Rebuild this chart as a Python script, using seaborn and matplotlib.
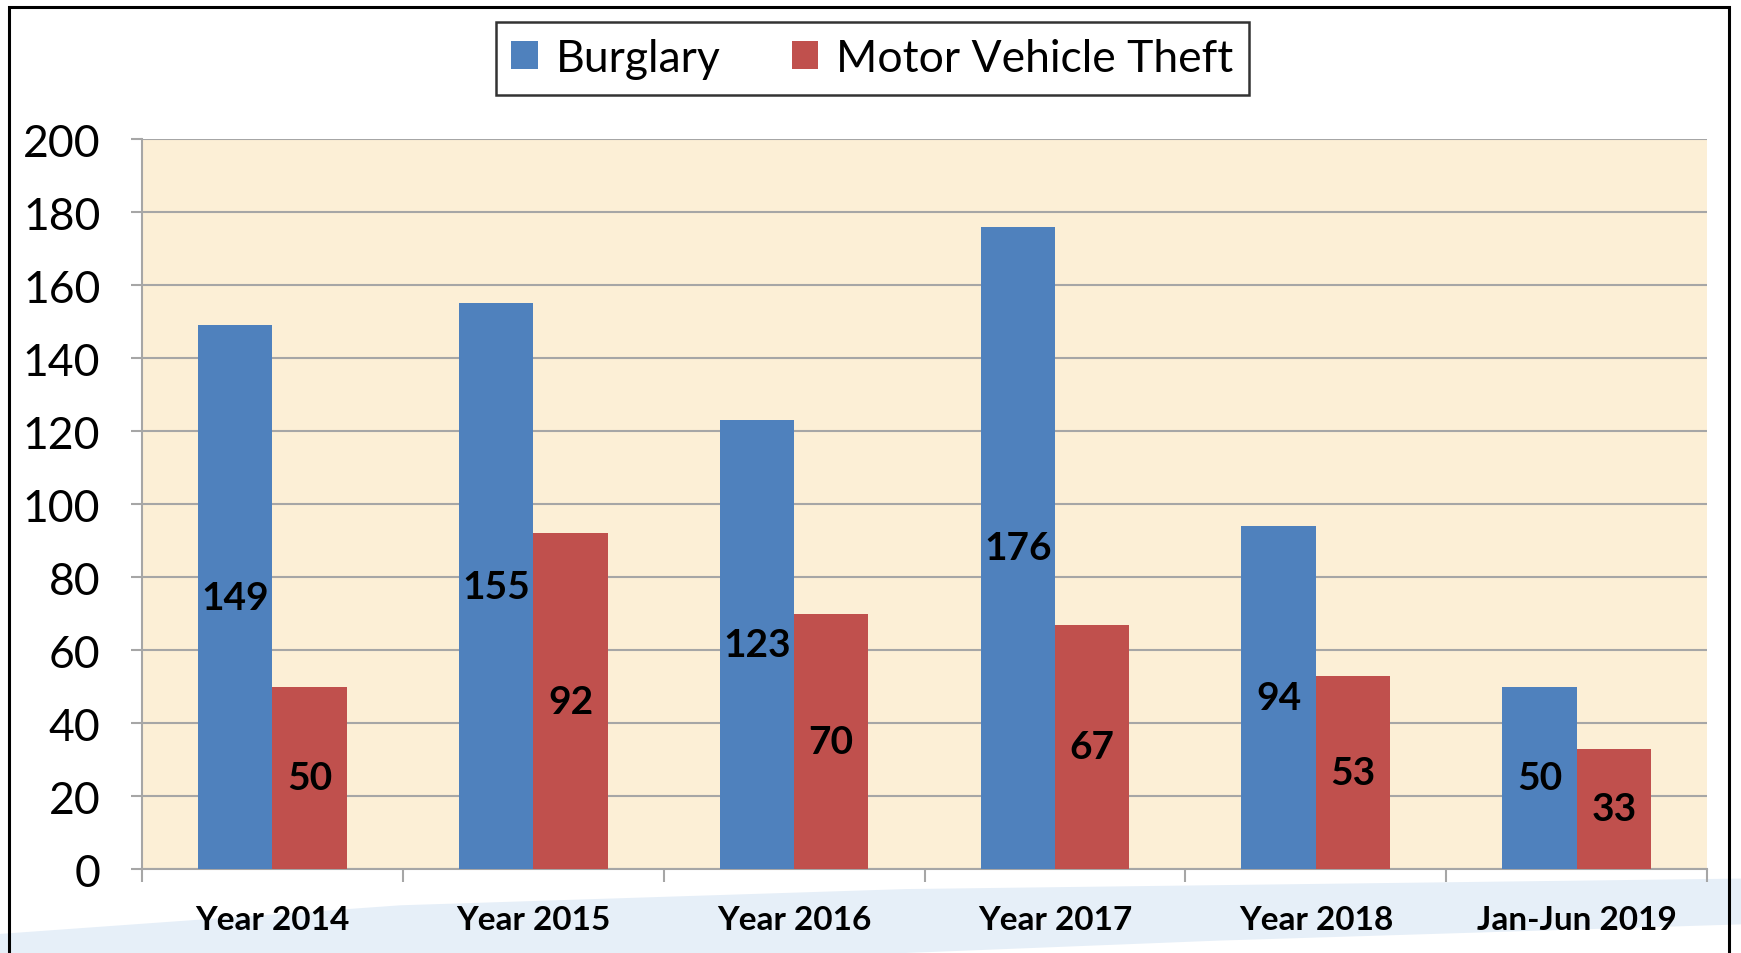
import matplotlib
matplotlib.use('Agg')
import matplotlib.pyplot as plt
import numpy as np
import pandas as pd
import seaborn as sns
from matplotlib.patches import Polygon, Rectangle
from matplotlib.ticker import MultipleLocator, FixedLocator

periods = ['Year 2014', 'Year 2015', 'Year 2016', 'Year 2017', 'Year 2018', 'Jan-Jun 2019']
burglary = [149, 155, 123, 176, 94, 50]
vehicle_theft = [50, 92, 70, 67, 53, 33]
series_names = ['Burglary', 'Motor Vehicle Theft']
colors = ['#4F81BD', '#C0504D']

df = pd.DataFrame({
    'period': periods * 2,
    'count': burglary + vehicle_theft,
    'crime': [series_names[0]] * len(periods) + [series_names[1]] * len(periods),
})

sns.set_style('white')
plt.rcParams['font.family'] = ['Lato', 'DejaVu Sans']
plt.rcParams['text.color'] = 'black'
plt.rcParams['xtick.labelcolor'] = 'black'
plt.rcParams['ytick.labelcolor'] = 'black'

fig = plt.figure(figsize=(17.41, 9.54), dpi=100)

# background layer: light blue swoosh and outer frame
bg = fig.add_axes([0, 0, 1, 1], zorder=-1)
bg.set_xlim(0, 1)
bg.set_ylim(0, 1)
bg.axis('off')
bg.add_patch(Polygon([(0, 0.02), (0.23, 0.05), (0.52, 0.067), (1.0, 0.078),
                      (1.0, 0.03), (0.7, 0.013), (0.52, 0.0), (0, 0.0)],
                     closed=True, facecolor='#E6EFF8', edgecolor='none'))
bg.add_patch(Rectangle((0.005, -0.05), 0.988, 1.042, fill=False,
                       edgecolor='black', linewidth=2.2, clip_on=False))

ax = fig.add_axes([0.0816, 0.088, 0.8989, 0.765])
ax.set_facecolor('#FCEFD6')

sns.barplot(data=df, x='period', y='count', hue='crime', palette=colors,
            width=0.57, saturation=1, linewidth=0, ax=ax, legend=False, zorder=3)

for cont in ax.containers:
    ax.bar_label(cont, label_type='center', fontsize=28, fontweight='bold', color='black')

ax.set_ylim(0, 200)
ax.set_xlim(-0.5, len(periods) - 0.5)
ax.yaxis.set_major_locator(MultipleLocator(20))
ax.set_axisbelow(True)
ax.grid(axis='y', color='#A6A6A6', linewidth=1.5, zorder=1)
ax.grid(axis='x', visible=False)

ax.set_xlabel('')
ax.set_ylabel('')
ax.tick_params(axis='y', labelsize=32, length=8, width=1.5, color='#A6A6A6',
               labelcolor='black', direction='out', pad=22, left=True)
ax.tick_params(axis='x', which='major', labelsize=24, length=0, pad=26, labelcolor='black')
ax.xaxis.set_minor_locator(FixedLocator(np.arange(-0.5, len(periods), 1.0)))
ax.tick_params(axis='x', which='minor', length=9, width=1.5, color='#A6A6A6',
               direction='out', bottom=True)
for lab in ax.get_xticklabels():
    lab.set_fontweight('bold')

for side in ['top', 'right']:
    ax.spines[side].set_visible(False)
for side in ['left', 'bottom']:
    ax.spines[side].set_color('#A6A6A6')
    ax.spines[side].set_linewidth(1.5)

handles = [Rectangle((0, 0), 1, 1, facecolor=c, edgecolor='none') for c in colors]
leg = fig.legend(handles, series_names, loc='center', bbox_to_anchor=(0.501, 0.9376),
                 ncol=2, fontsize=32, frameon=True, fancybox=False, edgecolor='black',
                 handlelength=0.6, handleheight=0.6, handletextpad=0.4,
                 columnspacing=1.6, borderpad=0.35, labelcolor='black')
leg.get_frame().set_linewidth(1.8)

fig.savefig('out.png', dpi=100)
